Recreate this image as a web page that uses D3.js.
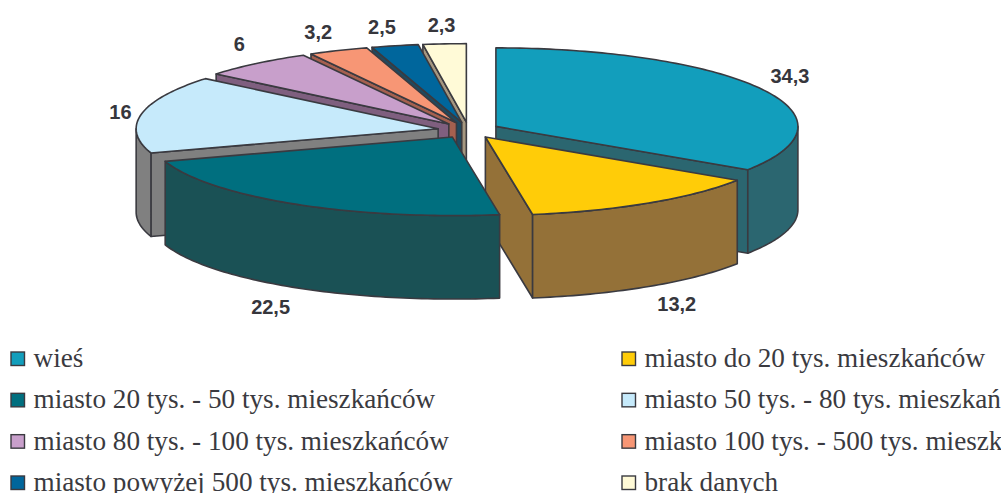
<!DOCTYPE html>
<html lang="pl">
<head>
<meta charset="utf-8">
<script src="https://cdn.jsdelivr.net/npm/d3@7"></script>
<style>
  html, body { margin: 0; padding: 0; background: #fff; overflow: hidden; }
  svg { display: block; }
</style>
</head>
<body>
<script>
// Miejsce zamieszkania: udział procentowy
const categories = [
  "wieś",
  "miasto do 20 tys. mieszkańców",
  "miasto 20 tys. - 50 tys. mieszkańców",
  "miasto 50 tys. - 80 tys. mieszkańców",
  "miasto 80 tys. - 100 tys. mieszkańców",
  "miasto 100 tys. - 500 tys. mieszkańców",
  "miasto powyżej 500 tys. mieszkańców",
  "brak danych"
];
const values = [34.3, 13.2, 22.5, 16, 6, 3.2, 2.5, 2.3];
const topColors = ["#129EBC", "#FFCC08", "#006F7F", "#C6EAFB", "#C89FCB", "#F79675", "#00669C", "#FFFAD7"];
const sideColors = ["#2B6670", "#947138", "#1A5155", "#808080", "#7F5F7F", "#A5604F", "#1F4A60", "#A59780"];

// Paint order of the slices, back to front
const paintOrder = [7, 6, 5, 4, 3, 0, 1, 2];
// Label offsets from the rim point at each slice's middle angle
const labelOffsets = [[28, -13], [28, 101.5], [-24, 103], [-21, -2], [-17, -20], [-20, -19], [-13, -19], [-3, -18.5]];

const width = 1005, height = 493;
const cx = 468.6, cy = 130.2;    // pie centre on the top plane
const rx = 302, ry = 78.5;       // ellipse radii of the tilted disc
const depth = 83.5;              // extrusion height
const explode = 31 / 302;        // slice displacement as a share of the radius
const ink = "#3A3A40";

const svg = d3.select("body").append("svg")
  .attr("width", width).attr("height", height)
  .attr("viewBox", `0 0 ${width} ${height}`);

const root = svg.append("g");
root.append("clipPath").attr("id", "page")
  .append("rect").attr("width", 1001).attr("height", height);
root.attr("clip-path", "url(#page)");

const slices = d3.pie().sort(null).value(d => d)(values);

// Projection of the unit disc onto the screen
const sx = d3.scaleLinear().domain([-1, 1]).range([cx - rx, cx + rx]);
const sy = d3.scaleLinear().domain([-1, 1]).range([cy + ry, cy - ry]);
const polar = (a, r) => [r * Math.sin(a), r * Math.cos(a)];

function apexOf(s) {
  const mid = (s.startAngle + s.endAngle) / 2;
  return polar(mid, explode);
}
function rimPoint(s, a, z = 0) {
  const [ax, ay] = apexOf(s);
  const [px, py] = polar(a, 1);
  return [sx(ax + px), sy(ay + py) + z];
}
function centrePoint(s, z = 0) {
  const [ax, ay] = apexOf(s);
  return [sx(ax), sy(ay) + z];
}
const arcAngles = (a0, a1) => {
  const n = Math.max(2, Math.ceil((a1 - a0) / 0.02));
  return d3.range(n + 1).map(i => a0 + (a1 - a0) * i / n);
};
const polygon = d3.line().curve(d3.curveLinearClosed);

const pieGroup = root.append("g")
  .attr("stroke", ink).attr("stroke-width", 1.6).attr("stroke-linejoin", "round");

paintOrder.forEach(i => {
  const s = slices[i];
  const g = pieGroup.append("g").attr("class", "slice");
  const side = sideColors[i];
  const a0 = s.startAngle, a1 = s.endAngle;

  // Radial cut face turned toward the viewer
  const radialFace = a => polygon([
    centrePoint(s), rimPoint(s, a), rimPoint(s, a, depth), centrePoint(s, depth)
  ]);
  if (Math.sin(a0) < 0) g.append("path").attr("d", radialFace(a0)).attr("fill", side);
  if (Math.sin(a1) > 0) g.append("path").attr("d", radialFace(a1)).attr("fill", side);

  // Outer wall, only on the front half of the disc
  const w0 = Math.max(a0, Math.PI / 2), w1 = Math.min(a1, 3 * Math.PI / 2);
  if (w1 > w0) {
    const rim = arcAngles(w0, w1);
    g.append("path")
      .attr("d", polygon([
        ...rim.map(a => rimPoint(s, a)),
        ...rim.slice().reverse().map(a => rimPoint(s, a, depth))
      ]))
      .attr("fill", side);
  }

  // Top face
  g.append("path")
    .attr("d", polygon([centrePoint(s), ...arcAngles(a0, a1).map(a => rimPoint(s, a))]))
    .attr("fill", topColors[i]);
});

// Value labels with a Polish decimal comma
const plFormat = d3.formatLocale({ decimal: ",", thousands: " ", grouping: [3], currency: ["", " zł"] }).format("~g");
root.append("g").selectAll("text").data(slices).join("text")
  .attr("x", (s, i) => rimPoint(s, (s.startAngle + s.endAngle) / 2)[0] + labelOffsets[i][0])
  .attr("y", (s, i) => rimPoint(s, (s.startAngle + s.endAngle) / 2)[1] + labelOffsets[i][1])
  .attr("text-anchor", "middle").attr("dominant-baseline", "central")
  .attr("font-family", "'Liberation Sans', Arial, sans-serif")
  .attr("font-weight", "bold").attr("font-size", 20).attr("fill", "#36363C")
  .text(s => plFormat(s.data));

// Two-column legend, filled row by row
const col = d3.scaleOrdinal().domain([0, 1]).range([11, 622]);
const row = d3.scalePoint().domain([0, 1, 2, 3]).range([367, 491]);
const legend = root.append("g").selectAll("g").data(categories).join("g")
  .attr("transform", (d, i) => `translate(${col(i % 2)},${row(Math.floor(i / 2))})`);
legend.append("rect")
  .attr("x", 0).attr("y", -15).attr("width", 13.5).attr("height", 13.5)
  .attr("fill", (d, i) => topColors[i]).attr("stroke", ink).attr("stroke-width", 1.4);
legend.append("text")
  .attr("x", 22.5).attr("y", 0)
  .attr("font-family", "'Liberation Serif', 'Times New Roman', serif")
  .attr("font-size", 27.2).attr("fill", "#3A3A40")
  .text(d => d);
</script>
</body>
</html>
